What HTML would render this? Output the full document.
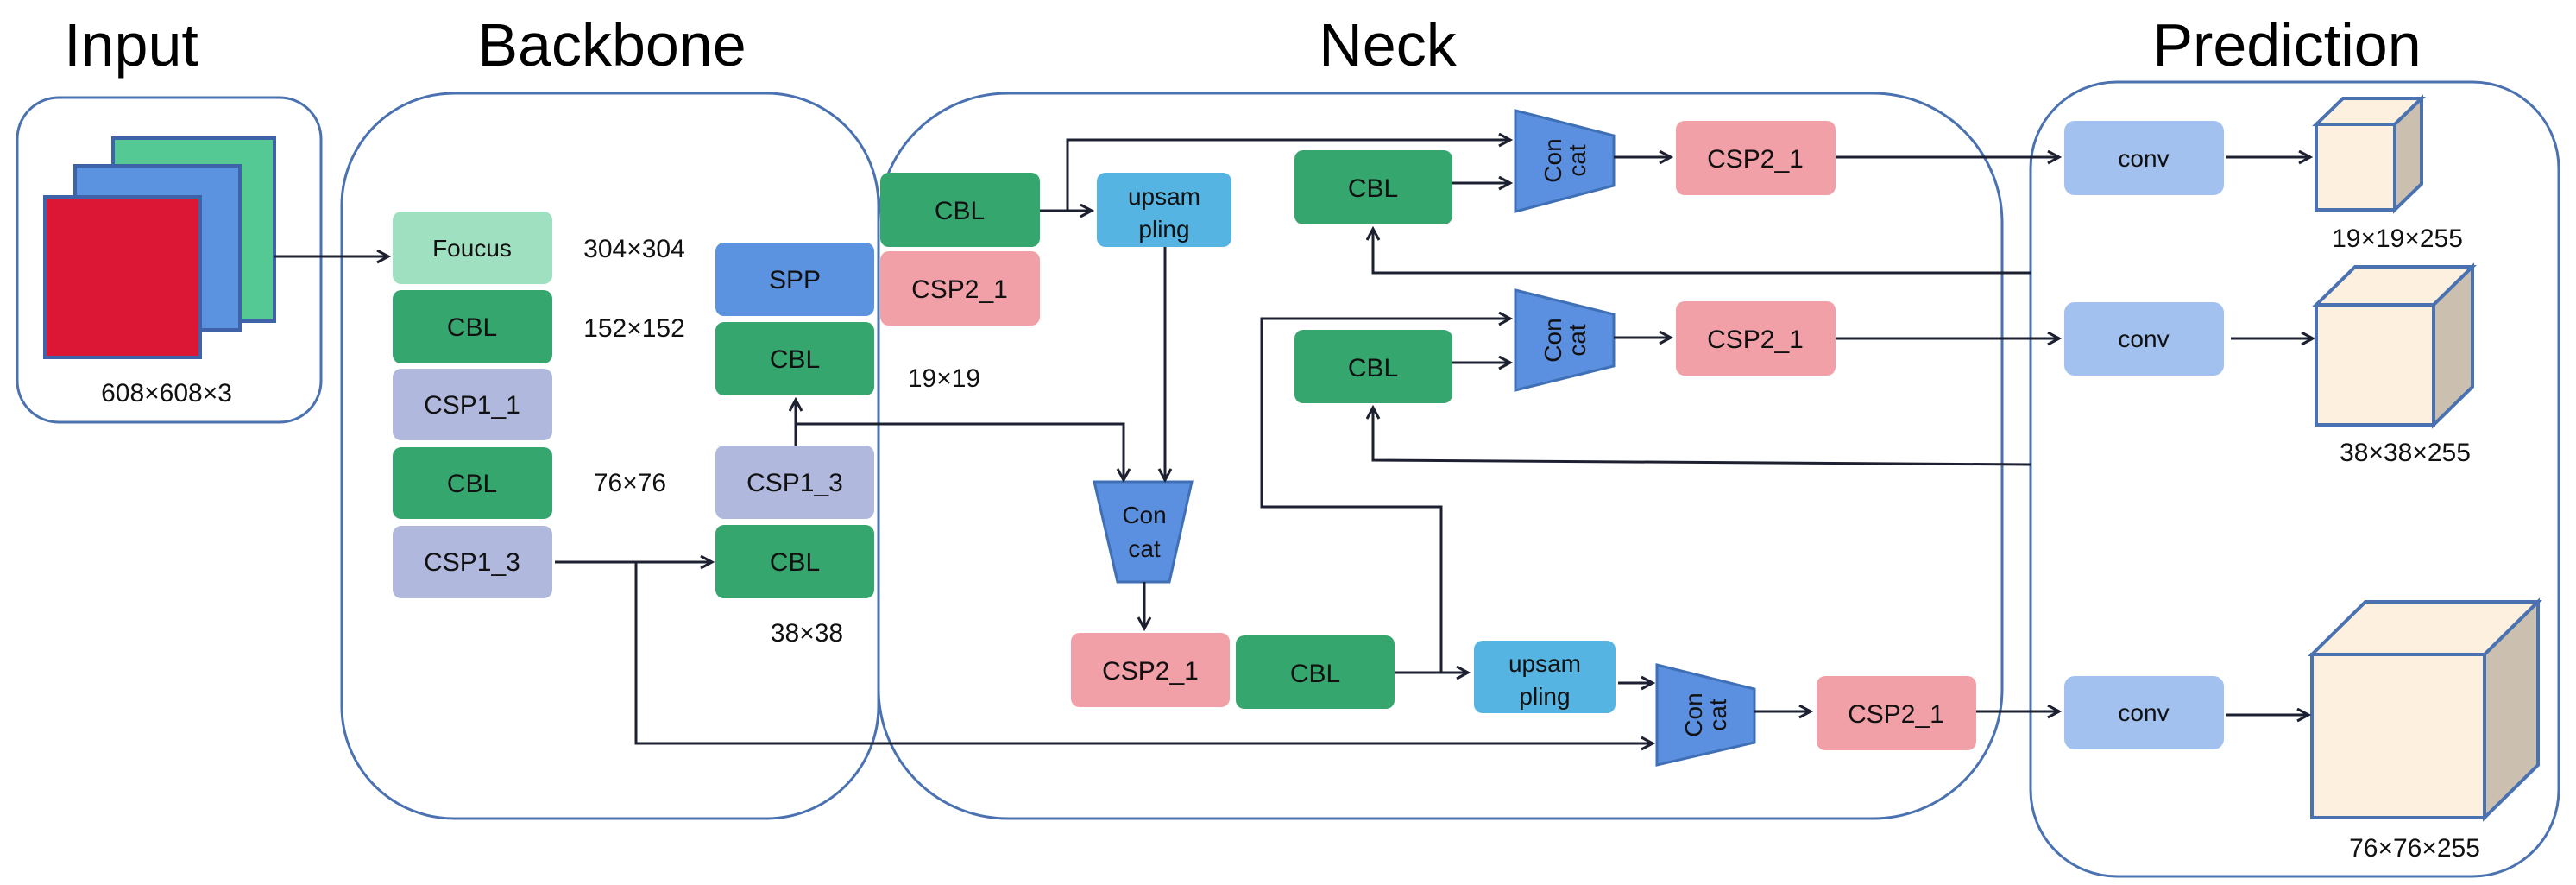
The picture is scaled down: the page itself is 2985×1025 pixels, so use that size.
<!DOCTYPE html>
<html><head><meta charset="utf-8"><style>html,body{margin:0;padding:0;background:#fff}svg{display:block}</style></head>
<body>
<svg width="2985" height="1025" viewBox="0 0 2985 1025" xmlns="http://www.w3.org/2000/svg" font-family="Liberation Sans, Arial, sans-serif">
<defs>
<marker id="a" markerWidth="18" markerHeight="18" refX="15" refY="8" orient="auto" markerUnits="userSpaceOnUse">
<path d="M2,1 L15,8 L2,15" fill="none" stroke="#1c2030" stroke-width="3"/>
</marker>
</defs>
<g font-size="70" fill="#000" text-anchor="middle">
<text x="152" y="76">Input</text>
<text x="709" y="76">Backbone</text>
<text x="1608" y="76">Neck</text>
<text x="2650" y="76">Prediction</text>
</g>
<g fill="none" stroke="#4a72b0" stroke-width="3">
<rect x="20" y="113" width="352" height="376" rx="48"/>
<rect x="396" y="108" width="622" height="840" rx="130"/>
<rect x="1018" y="108" width="1302" height="840" rx="150"/>
<rect x="2353" y="95" width="612" height="920" rx="100"/>
</g>
<g stroke="#3e63a8" stroke-width="4">
<rect x="131" y="160" width="187" height="212" fill="#55c993"/>
<rect x="87" y="192" width="191" height="190" fill="#5b93e0"/>
<rect x="52" y="228" width="180" height="186" fill="#dc1736"/>
</g>
<g font-size="30" fill="#111" text-anchor="middle">
<text x="193" y="465">608×608×3</text>
<text x="735" y="298">304×304</text>
<text x="735" y="390">152×152</text>
<text x="730" y="569">76×76</text>
<text x="935" y="743">38×38</text>
<text x="1094" y="448">19×19</text>
<text x="2778" y="286">19×19×255</text>
<text x="2787" y="534">38×38×255</text>
<text x="2798" y="992">76×76×255</text>
</g>
<!-- boxes -->
<g font-size="30" fill="#111" text-anchor="middle">
<rect x="455" y="245" width="185" height="84" rx="10" fill="#9fe0c0"/><text x="547" y="297" font-size="28">Foucus</text>
<rect x="455" y="336" width="185" height="85" rx="10" fill="#35a66e"/><text x="547" y="389">CBL</text>
<rect x="455" y="427" width="185" height="83" rx="10" fill="#b0b8dd"/><text x="547" y="479">CSP1_1</text>
<rect x="455" y="518" width="185" height="83" rx="10" fill="#35a66e"/><text x="547" y="570">CBL</text>
<rect x="455" y="609" width="185" height="84" rx="10" fill="#b0b8dd"/><text x="547" y="661">CSP1_3</text>
<rect x="829" y="281" width="184" height="85" rx="10" fill="#5b93e0"/><text x="921" y="334">SPP</text>
<rect x="829" y="373" width="184" height="85" rx="10" fill="#35a66e"/><text x="921" y="426">CBL</text>
<rect x="829" y="516" width="184" height="85" rx="10" fill="#b0b8dd"/><text x="921" y="569">CSP1_3</text>
<rect x="829" y="608" width="184" height="85" rx="10" fill="#35a66e"/><text x="921" y="661">CBL</text>

<rect x="1020" y="200" width="185" height="86" rx="10" fill="#35a66e"/><text x="1112" y="254">CBL</text>
<rect x="1020" y="291" width="185" height="86" rx="10" fill="#f2a0a8"/><text x="1112" y="345">CSP2_1</text>
<rect x="1271" y="200" width="156" height="86" rx="10" fill="#56b4e3"/><text x="1349" y="237" font-size="28">upsam</text><text x="1349" y="275" font-size="28">pling</text>
<rect x="1500" y="174" width="183" height="86" rx="10" fill="#35a66e"/><text x="1591" y="228">CBL</text>
<rect x="1500" y="382" width="183" height="85" rx="10" fill="#35a66e"/><text x="1591" y="436">CBL</text>
<rect x="1942" y="140" width="185" height="86" rx="10" fill="#f2a0a8"/><text x="2034" y="194">CSP2_1</text>
<rect x="1942" y="349" width="185" height="86" rx="10" fill="#f2a0a8"/><text x="2034" y="403">CSP2_1</text>
<rect x="1241" y="733" width="184" height="86" rx="10" fill="#f2a0a8"/><text x="1333" y="787">CSP2_1</text>
<rect x="1432" y="736" width="184" height="85" rx="10" fill="#35a66e"/><text x="1524" y="790">CBL</text>
<rect x="1708" y="742" width="164" height="84" rx="10" fill="#56b4e3"/><text x="1790" y="778" font-size="28">upsam</text><text x="1790" y="816" font-size="28">pling</text>
<rect x="2105" y="783" width="185" height="86" rx="10" fill="#f2a0a8"/><text x="2197" y="837">CSP2_1</text>

<rect x="2392" y="140" width="185" height="86" rx="12" fill="#a3c1ee"/><text x="2484" y="193" font-size="28">conv</text>
<rect x="2392" y="350" width="185" height="85" rx="12" fill="#a3c1ee"/><text x="2484" y="402" font-size="28">conv</text>
<rect x="2392" y="783" width="185" height="85" rx="12" fill="#a3c1ee"/><text x="2484" y="835" font-size="28">conv</text>
</g>
<!-- concats -->
<g fill="#5b8fe0" stroke="#3f6fb5" stroke-width="3">
<polygon points="1756,128 1870,157 1870,215 1756,245"/>
<polygon points="1756,336 1870,364 1870,424 1756,452"/>
<polygon points="1920,770 2033,798 2033,860 1920,886"/>
<polygon points="1268,558 1381,558 1355,674 1295,674"/>
</g>
<g font-size="28" fill="#111" text-anchor="middle">
<g transform="translate(1813,186) rotate(-90)"><text y="-4">Con</text><text y="24">cat</text></g>
<g transform="translate(1813,394) rotate(-90)"><text y="-4">Con</text><text y="24">cat</text></g>
<g transform="translate(1976,828) rotate(-90)"><text y="-4">Con</text><text y="24">cat</text></g>
<text x="1326" y="606">Con</text><text x="1326" y="645">cat</text>
</g>
<!-- cubes -->
<g stroke="#4a72b0" stroke-width="4" stroke-linejoin="miter">
<polygon points="2684,144 2715,114 2806,114 2775,144" fill="#fdf0df"/>
<polygon points="2775,144 2806,114 2806,213 2775,243" fill="#cbbfaf"/>
<rect x="2684" y="144" width="91" height="99" fill="#fdf0df"/>
<polygon points="2684,353 2729,309 2865,309 2820,353" fill="#fdf0df"/>
<polygon points="2820,353 2865,309 2865,448 2820,492" fill="#cbbfaf"/>
<rect x="2684" y="353" width="136" height="139" fill="#fdf0df"/>
<polygon points="2679,758 2741,697 2941,697 2879,758" fill="#fdf0df"/>
<polygon points="2879,758 2941,697 2941,886 2879,947" fill="#cbbfaf"/>
<rect x="2679" y="758" width="200" height="189" fill="#fdf0df"/>
</g>
<!-- connectors -->
<g fill="none" stroke="#1c2030" stroke-width="3">
<path d="M318,297 H450" marker-end="url(#a)"/>
<path d="M643,651 H825" marker-end="url(#a)"/>
<path d="M737,651 V861 H1915" marker-end="url(#a)"/>
<path d="M922,516 V463" marker-end="url(#a)"/>
<path d="M922,491 H1302 V556" marker-end="url(#a)"/>
<path d="M1350,286 V556" marker-end="url(#a)"/>
<path d="M1205,244 H1265" marker-end="url(#a)"/>
<path d="M1237,244 V162 H1750" marker-end="url(#a)"/>
<path d="M1326,674 V728" marker-end="url(#a)"/>
<path d="M1616,779 H1701" marker-end="url(#a)"/>
<path d="M1670,779 V587 H1462 V369 H1750" marker-end="url(#a)"/>
<path d="M1875,791 H1915" marker-end="url(#a)"/>
<path d="M1683,212 H1750" marker-end="url(#a)"/>
<path d="M1683,420 H1750" marker-end="url(#a)"/>
<path d="M1870,182 H1936" marker-end="url(#a)"/>
<path d="M1870,391 H1936" marker-end="url(#a)"/>
<path d="M2033,824 H2098" marker-end="url(#a)"/>
<path d="M2127,182 H2386" marker-end="url(#a)"/>
<path d="M2127,392 H2386" marker-end="url(#a)"/>
<path d="M2290,824 H2386" marker-end="url(#a)"/>
<path d="M2353,316 H1591 V265" marker-end="url(#a)"/>
<path d="M2353,538 L1591,533 V472" marker-end="url(#a)"/>
<path d="M2580,182 H2677" marker-end="url(#a)"/>
<path d="M2585,392 H2680" marker-end="url(#a)"/>
<path d="M2580,828 H2675" marker-end="url(#a)"/>
</g>
</svg>
</body></html>
